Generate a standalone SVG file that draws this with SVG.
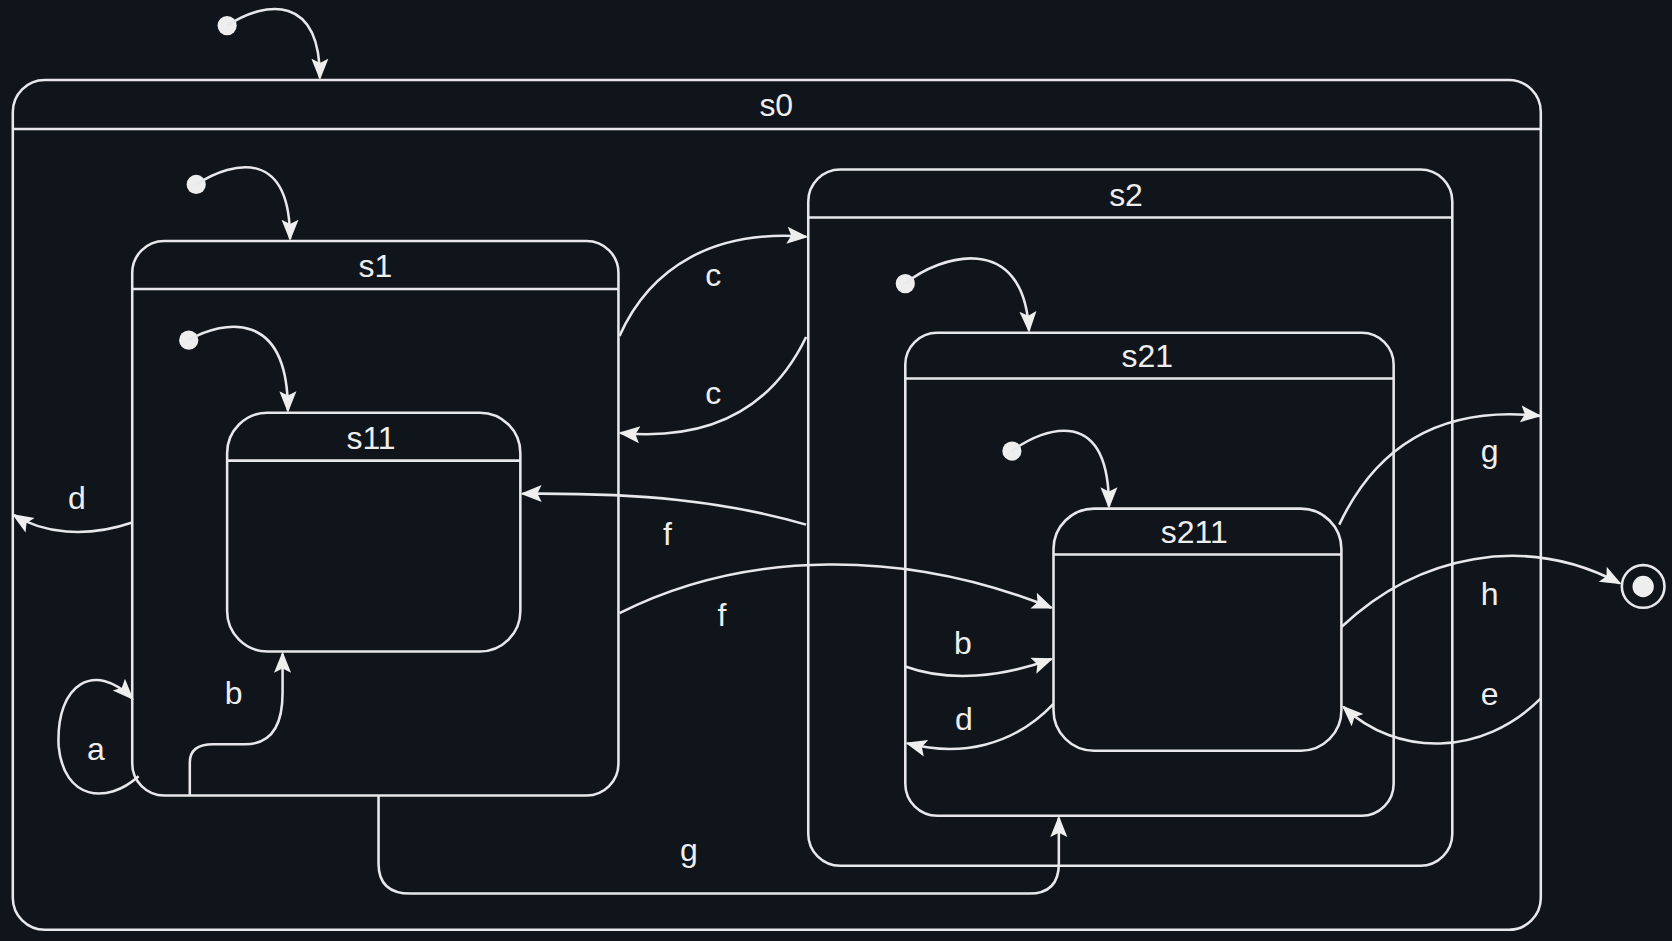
<svg xmlns="http://www.w3.org/2000/svg" width="1672" height="941" viewBox="0 0 1672 941">
<style>
.b{fill:none;stroke:#e8e8ec;stroke-width:2.4}
.e{fill:none;stroke:#e8e8ec;stroke-width:2.4}
text{font-family:"Liberation Sans",Arial,sans-serif;font-size:30px;fill:#eeeeee;text-anchor:middle}
.d{fill:#eeeeee}
</style>
<defs>
<marker id="ar" viewBox="0 0 10 10" refX="9" refY="5" markerWidth="20" markerHeight="20" markerUnits="userSpaceOnUse" orient="auto"><path d="M0,1L10,5L0,9L2,5z" fill="#eeeeee"/></marker>
</defs>
<rect width="1672" height="941" fill="#10151b"/>
<g transform="scale(1.0663)">
<g id="s0"><rect class="b" x="12" y="75" width="1433" height="797" rx="30"/><line class="b" x1="12" y1="121" x2="1445" y2="121"/><text x="728" y="109">s0</text></g>
<g id="s1"><rect class="b" x="124" y="226" width="456" height="520" rx="30"/><line class="b" x1="124" y1="271" x2="580" y2="271"/><text x="352" y="260">s1</text></g>
<g id="s11"><rect class="b" x="213" y="387" width="275" height="224" rx="38"/><line class="b" x1="213" y1="432" x2="488" y2="432"/><text x="348" y="421">s11</text></g>
<g id="s2"><rect class="b" x="758" y="159" width="604" height="653" rx="30"/><line class="b" x1="758" y1="204" x2="1362" y2="204"/><text x="1056" y="193">s2</text></g>
<g id="s21"><rect class="b" x="849" y="312" width="458" height="453" rx="30"/><line class="b" x1="849" y1="355" x2="1307" y2="355"/><text x="1076" y="344">s21</text></g>
<g id="s211"><rect class="b" x="988" y="477" width="270" height="227" rx="38"/><line class="b" x1="988" y1="520" x2="1258" y2="520"/><text x="1120" y="509">s211</text></g>
<g id="final"><circle cx="1541" cy="550" r="20" class="b"/><circle cx="1541" cy="550" r="10" class="d"/></g>
<g id="initials">
<circle class="d" cx="213" cy="24" r="9"/><circle class="d" cx="184" cy="173" r="9"/><circle class="d" cx="177" cy="319" r="9"/><circle class="d" cx="849" cy="266" r="9"/><circle class="d" cx="949" cy="423" r="9"/>
</g>
<g id="connectors">
<path class="e" marker-end="url(#ar)" d="M213,24 C250,0 300,-5 300,73"/>
<path class="e" marker-end="url(#ar)" d="M184,173 C220,150 272,140 272,224"/>
<path class="e" marker-end="url(#ar)" d="M177,319 C210,300 270,290 270,385"/>
<path class="e" marker-end="url(#ar)" d="M849,266 C880,240 960,215 965,310"/>
<path class="e" marker-end="url(#ar)" d="M949,423 C980,400 1040,380 1040,475"/>
<path class="e" marker-end="url(#ar)" d="M581,315 C610,250 670,215 756,222"/>
<path class="e" marker-end="url(#ar)" d="M756,316 C730,370 680,415 582,406"/>
<path class="e" marker-end="url(#ar)" d="M124,490 C80,505 40,500 13,483"/>
<path class="e" marker-end="url(#ar)" d="M756,492 C680,470 600,462 490,463"/>
<path class="e" marker-end="url(#ar)" d="M581,575 C700,515 850,515 986,570"/>
<path class="e" marker-end="url(#ar)" d="M849,625 C890,640 940,635 986,618"/>
<path class="e" marker-end="url(#ar)" d="M988,660 C950,700 900,710 851,697"/>
<path class="e" marker-end="url(#ar)" d="M1256,492 C1290,420 1350,380 1444,390"/>
<path class="e" marker-end="url(#ar)" d="M1258,588 C1330,520 1430,500 1519,547"/>
<path class="e" marker-end="url(#ar)" d="M1445,655 C1390,710 1310,710 1260,663"/>
<path class="e" marker-end="url(#ar)" d="M130,728 C100,755 60,750 55,700 C52,640 90,620 124,655"/>
<path class="e" marker-end="url(#ar)" d="M178,746 L178,715 Q178,698 200,698 L230,698 Q265,698 265,650 L265,613"/>
<path class="e" marker-end="url(#ar)" d="M355,746 L355,810 Q355,838 385,838 L965,838 Q993,838 993,810 L993,767"/>
</g>
<g id="labels">
<text x="669" y="268">c</text><text x="669" y="379">c</text><text x="72" y="477">d</text><text x="626" y="511">f</text><text x="677" y="587">f</text>
<text x="903" y="613">b</text><text x="904" y="685">d</text><text x="1397" y="433">g</text><text x="1397" y="567">h</text><text x="1397" y="661">e</text>
<text x="90" y="713">a</text><text x="219" y="660">b</text><text x="646" y="807">g</text>
</g>
</g>
</svg>
